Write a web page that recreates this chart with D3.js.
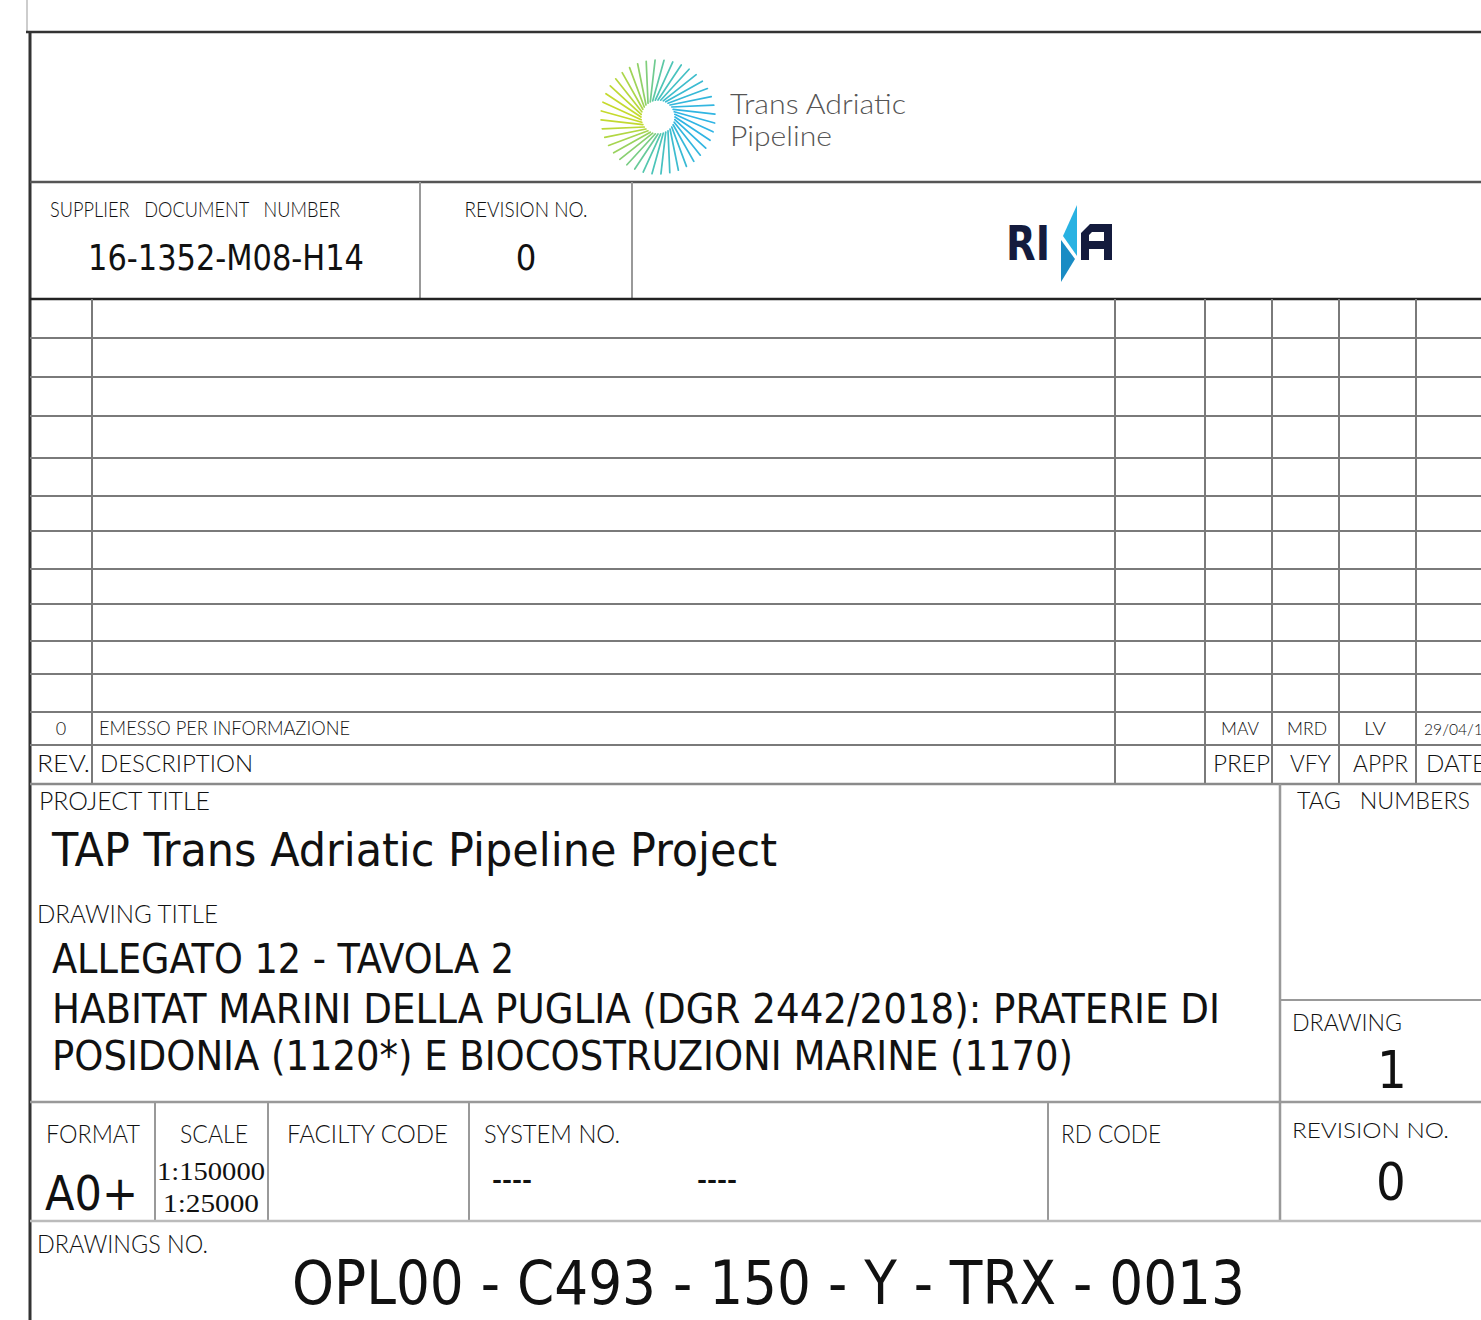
<!DOCTYPE html>
<html lang="en">
<head>
    <meta charset="UTF-8">
    <title>TAP title block</title>
    <script src="https://d3js.org/d3.v7.min.js"></script>
    <style>
        body {
            margin: 0;
            background: #ffffff;
            overflow: hidden;
        }
        svg {
            display: block;
        }
        text {
            white-space: pre;
        }
    </style>
</head>
<body>
<script>
    // --- content of the title block ---
    const supplierDoc = ["SUPPLIER   DOCUMENT   NUMBER", "16-1352-M08-H14"];
    const topRevision = ["REVISION NO.", "0"];
    const revisionRow = ["0", "EMESSO PER INFORMAZIONE", "MAV", "MRD", "LV", "29/04/19"];
    const revisionHead = ["REV.", "DESCRIPTION", "PREP", "VFY", "APPR", "DATE"];
    const projectTitle = ["PROJECT TITLE", "TAP Trans Adriatic Pipeline Project"];
    const drawingTitle = [
        "ALLEGATO 12 - TAVOLA 2",
        "HABITAT MARINI DELLA PUGLIA (DGR 2442/2018): PRATERIE DI",
        "POSIDONIA (1120*) E BIOCOSTRUZIONI MARINE (1170)"
    ];
    const sideBoxes = ["TAG   NUMBERS", "DRAWING", "1", "REVISION NO.", "0"];
    const bottomLabels = ["FORMAT", "SCALE", "FACILTY CODE", "SYSTEM NO.", "RD CODE"];
    const formatValue = "A0+";
    const scaleValues = ["1:150000", "1:25000"];
    const systemValues = ["----", "----"];
    const drawingNo = ["DRAWINGS NO.", "OPL00 - C493 - 150 - Y - TRX - 0013"];

    const width = 1481, height = 1320;
    const LABEL = "Lato, 'DejaVu Sans Condensed', sans-serif";
    const BIG = "'DejaVu Sans Condensed', 'DejaVu Sans', sans-serif";
    const SERIF = "'Liberation Serif', 'DejaVu Serif', serif";

    const svg = d3.select("body").append("svg")
        .attr("width", width)
        .attr("height", height);

    function line(x1, y1, x2, y2, color, w) {
        svg.append("line")
            .attr("x1", x1).attr("y1", y1).attr("x2", x2).attr("y2", y2)
            .attr("stroke", color || "#7a7a7a")
            .attr("stroke-width", w || 2);
    }

    function txt(x, y, s, o) {
        const t = svg.append("text")
            .attr("x", x).attr("y", y)
            .attr("font-family", o.font || LABEL)
            .attr("font-size", o.size)
            .attr("font-weight", o.weight || (o.font ? "normal" : 300))
            .attr("fill", o.fill || "#111")
            .text(s);
        if (o.anchor) t.attr("text-anchor", o.anchor);
        if (o.len) t.attr("textLength", o.len).attr("lengthAdjust", "spacingAndGlyphs");
        return t;
    }

    // --- frame ---
    line(27, 0, 27, 32, "#bdbdbd", 1.5);
    line(26, 32, width, 32, "#333", 2.5);
    line(30, 32, 30, height, "#333", 3);
    line(30, 182, width, 182, "#555", 2.5);
    line(420, 182, 420, 298, "#999", 2);
    line(632, 182, 632, 298, "#999", 2);
    line(30, 299, width, 299, "#222", 2.5);

    // --- revision grid ---
    const gridY = [338, 377, 416, 458, 496, 531, 569, 604, 641, 674, 712, 745];
    const gridX = [92, 1115, 1205, 1272, 1339, 1416];
    gridY.forEach(y => line(30, y, width, y));
    gridX.forEach(x => line(x, 299, x, 783));
    line(30, 784, width, 784, "#8a8a8a", 2.5);

    // --- project / drawing title area ---
    line(1280, 784, 1280, 1220, "#999", 2.5);
    line(1280, 1000, width, 1000, "#999", 2);
    line(30, 1102, width, 1102, "#999", 2.5);
    [155, 268, 469, 1048].forEach(x => line(x, 1102, x, 1220, "#999", 2));
    line(30, 1221, width, 1221, "#bbb", 2.5);

    // --- TAP logo ---
    const logo = svg.append("g").attr("transform", "translate(658,117)");
    const rayColor = d3.scaleLinear()
        .domain([0, 0.5, 1])
        .range(["#2fb4e4", "#4fc6b4", "#c6da2c"]);
    const rays = d3.range(40);
    logo.selectAll("line")
        .data(rays)
        .enter().append("line")
        .attr("x1", i => 17 * Math.cos(i / 40 * 2 * Math.PI))
        .attr("y1", i => 17 * Math.sin(i / 40 * 2 * Math.PI))
        .attr("x2", i => 57 * Math.cos(i / 40 * 2 * Math.PI + 0.42))
        .attr("y2", i => 57 * Math.sin(i / 40 * 2 * Math.PI + 0.42))
        .attr("stroke", i => rayColor((1 - Math.cos(i / 40 * 2 * Math.PI + 0.2)) / 2))
        .attr("stroke-width", 1.7)
        .attr("stroke-linecap", "round");
    txt(730, 114, "Trans Adriatic", {size: 28, font: "Lato, 'Open Sans', sans-serif", weight: 300, fill: "#555", len: 176});
    txt(730, 146, "Pipeline", {size: 28, font: "Lato, 'Open Sans', sans-serif", weight: 300, fill: "#555", len: 102});

    // --- RINA logo ---
    txt(1006, 260, "RI", {size: 48, font: "'DejaVu Sans', sans-serif", weight: "bold", fill: "#141b3d", len: 44});
    svg.append("polygon")
        .attr("points", "1077,205 1077,256 1063,236")
        .attr("fill", "#29b2e2");
    svg.append("polygon")
        .attr("points", "1061,240 1075,259 1061,282")
        .attr("fill", "#1a8cc4");
    svg.append("path")
        .attr("d", "M1081,260 V233 L1090,224 H1112 V260 H1104 V249 H1089 V260 Z M1089,241 H1104 V232 H1092 L1089,235 Z")
        .attr("fill", "#141b3d")
        .attr("fill-rule", "evenodd");

    // --- supplier row ---
    txt(50, 217, supplierDoc[0], {size: 21, len: 290});
    txt(88, 270, supplierDoc[1], {size: 36, font: BIG, len: 276});
    txt(526, 217, topRevision[0], {size: 21, anchor: "middle", len: 123});
    txt(526, 270, topRevision[1], {size: 36, font: BIG, anchor: "middle"});

    // --- revision rows ---
    txt(61, 735, revisionRow[0], {size: 18, anchor: "middle"});
    txt(99, 735, revisionRow[1], {size: 19, len: 251});
    txt(1240, 735, revisionRow[2], {size: 18, anchor: "middle", len: 38});
    txt(1307, 735, revisionRow[3], {size: 18, anchor: "middle", len: 40});
    txt(1375, 735, revisionRow[4], {size: 18, anchor: "middle", len: 22});
    txt(1424, 735, revisionRow[5], {size: 15, len: 68});

    txt(37, 772, revisionHead[0], {size: 24, len: 53});
    txt(100, 772, revisionHead[1], {size: 24, len: 153});
    txt(1213, 772, revisionHead[2], {size: 24, len: 57});
    txt(1290, 772, revisionHead[3], {size: 24, len: 41});
    txt(1353, 772, revisionHead[4], {size: 24, len: 55});
    txt(1426, 772, revisionHead[5], {size: 24, len: 60});

    // --- titles ---
    txt(39, 810, projectTitle[0], {size: 25, len: 171});
    txt(52, 866, projectTitle[1], {size: 46, font: BIG, len: 725});
    txt(37, 923, "DRAWING TITLE", {size: 25, len: 181});
    txt(52, 973, drawingTitle[0], {size: 40, font: BIG, len: 462});
    txt(52, 1023, drawingTitle[1], {size: 40, font: BIG, len: 1168});
    txt(52, 1070, drawingTitle[2], {size: 40, font: BIG, len: 1021});

    // --- side boxes ---
    txt(1297, 809, sideBoxes[0], {size: 24, len: 173});
    txt(1292, 1031, sideBoxes[1], {size: 23, len: 110});
    txt(1392, 1088, sideBoxes[2], {size: 52, font: BIG, anchor: "middle"});
    txt(1292, 1138, sideBoxes[3], {size: 22, len: 157});
    txt(1391, 1200, sideBoxes[4], {size: 52, font: BIG, anchor: "middle"});

    // --- bottom row ---
    txt(46, 1143, bottomLabels[0], {size: 25, len: 94});
    txt(180, 1143, bottomLabels[1], {size: 25, len: 68});
    txt(287, 1143, bottomLabels[2], {size: 25, len: 161});
    txt(484, 1143, bottomLabels[3], {size: 25, len: 136});
    txt(1061, 1143, bottomLabels[4], {size: 25, len: 100});
    txt(45, 1210, formatValue, {size: 48, font: BIG, len: 93});
    txt(211, 1180, scaleValues[0], {size: 26, font: SERIF, anchor: "middle", len: 108});
    txt(211, 1212, scaleValues[1], {size: 26, font: SERIF, anchor: "middle", len: 96});
    txt(492, 1188, systemValues[0], {size: 22, font: BIG, weight: "bold", len: 40});
    txt(697, 1188, systemValues[1], {size: 22, font: BIG, weight: "bold", len: 40});

    // --- drawing number ---
    txt(37, 1253, drawingNo[0], {size: 25, len: 171});
    txt(292, 1304, drawingNo[1], {size: 60, font: BIG, len: 953});
</script>
</body>
</html>
